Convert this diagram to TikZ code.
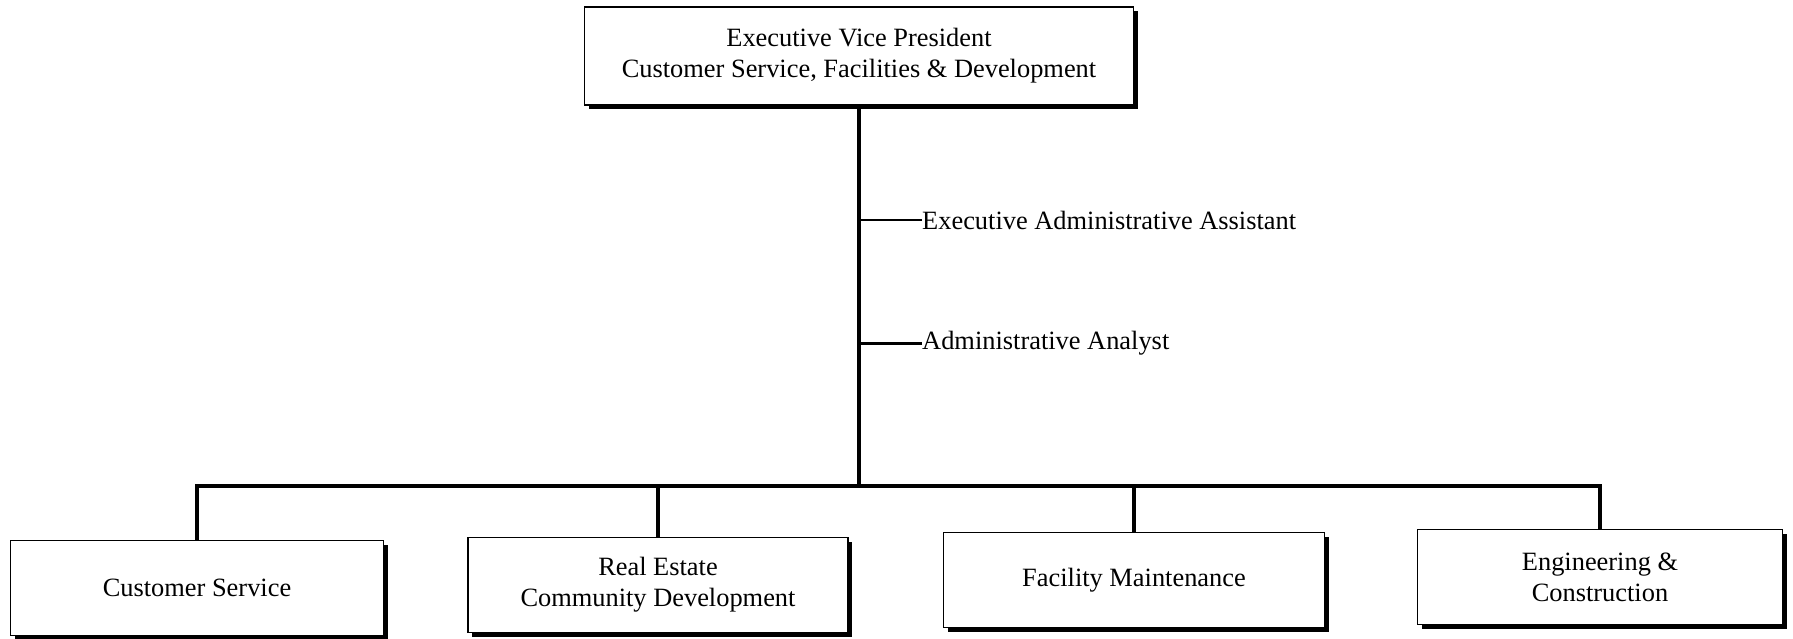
\documentclass[tikz,border=0pt]{standalone}
\usepackage{fontspec}
\setmainfont{Liberation Serif}
\usetikzlibrary{shadows}
\tikzset{
  unit/.style = {draw, line width=1.4pt, fill=white, align=center,
    inner sep=0pt, font=\fontsize{26.4}{31}\selectfont,
    drop shadow={shadow xshift=4pt, shadow yshift=-4pt, fill=black, opacity=1}},
  staff/.style = {anchor=west, inner sep=0pt, font=\fontsize{26.4}{31}\selectfont},
  trunk/.style = {line width=4.5pt},
}
\begin{document}
\begin{tikzpicture}[x=1pt, y=-1pt]
    \useasboundingbox (0,0) rectangle (1793,638);
    \begin{scope}
      \def\boxh{95pt}
      \node[unit, minimum width=549pt, minimum height=98pt] (evp) at (859,56)
        {Executive Vice President\\Customer Service, Facilities \& Development};
      \node[staff] (asst) at (922,220) {Executive Administrative Assistant};
      \node[staff] (analyst) at (922,343) {Administrative Analyst};
      \node[unit, minimum width=373pt, minimum height=\boxh] (cs) at (197,588) {Customer Service};
      \node[unit, minimum width=380pt, minimum height=\boxh] (realestate) at (658,585) {Real Estate\\Community Development};
      \node[unit, minimum width=381pt, minimum height=\boxh] (facility) at (1134,580) {Facility Maintenance};
      \node[unit, minimum width=365pt, minimum height=\boxh] (engineering) at (1600,577) {Engineering \&\\Construction};
      \coordinate (bus) at (861,486);
    \end{scope}
    \draw[trunk] (evp.south) -- (evp.south |- bus);
    \draw[line width=1.6pt] (asst.west) -- (asst.west -| evp.south);
    \draw[line width=3pt] (analyst.west) -- (analyst.west -| evp.south);
    \draw[trunk] (cs.north) |- (bus) -| (engineering.north);
    \draw[trunk] (realestate.north) -- (realestate.north |- bus);
    \draw[trunk] (facility.north) -- (facility.north |- bus);
  \end{tikzpicture}
\end{document}
